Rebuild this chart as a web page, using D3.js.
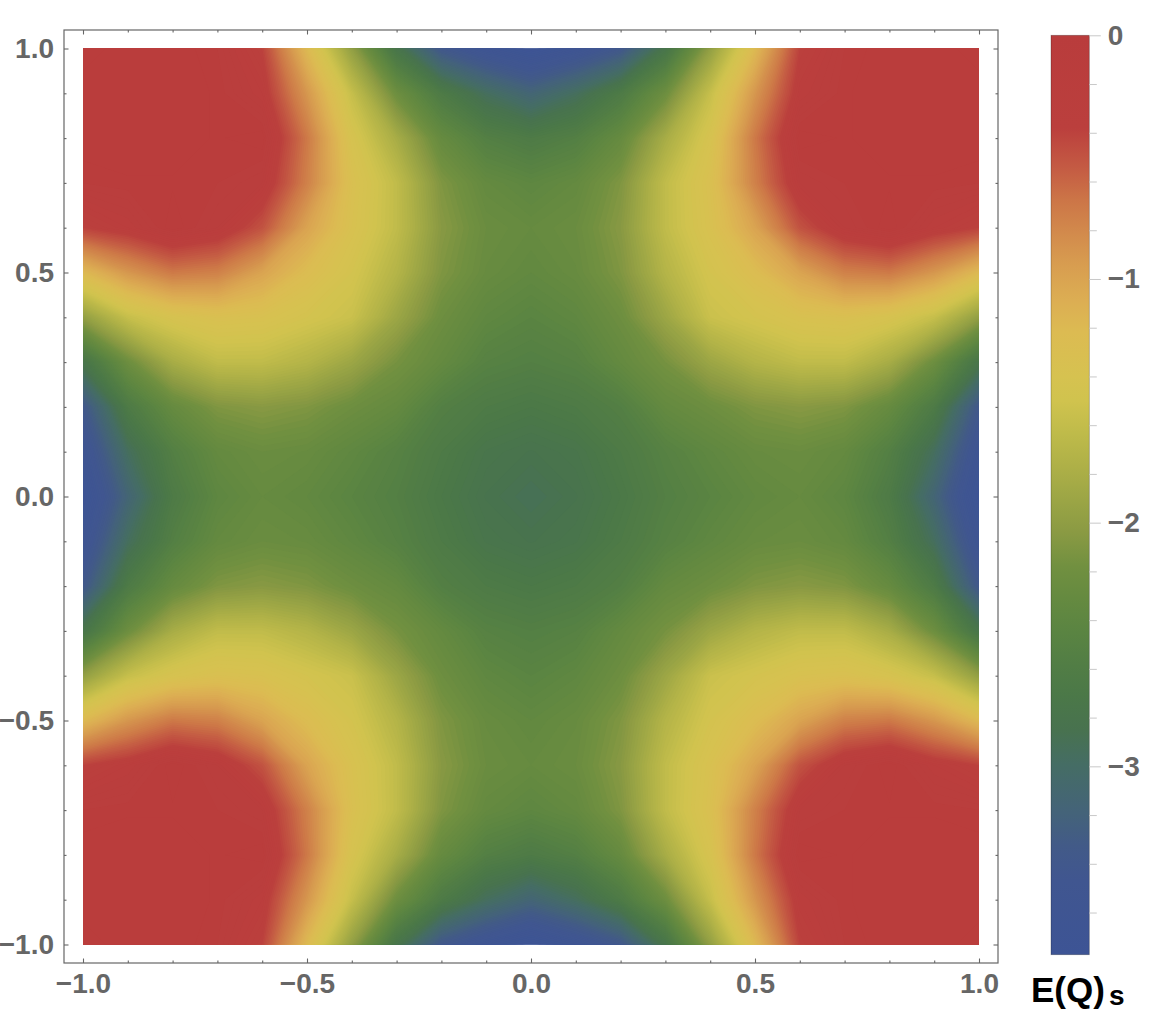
<!DOCTYPE html>
<html>
<head>
<meta charset="utf-8">
<script src="https://cdn.jsdelivr.net/npm/d3@7"></script>
<style>
  body { margin: 0; background: #fff; }
  svg text { font-family: "Liberation Sans", Arial, sans-serif; font-weight: bold; }
</style>
</head>
<body>
<div id="chart"></div>
<script>
// grid coordinates (columns = x, rows = y from top to bottom)
var xValues = [-1.0, -0.9, -0.8, -0.7, -0.6, -0.5, -0.4, -0.3, -0.2, -0.1, 0.0, 0.1, 0.2, 0.3, 0.4, 0.5, 0.6, 0.7, 0.8, 0.9, 1.0];
var yValues = [1.0, 0.9, 0.8, 0.7, 0.6, 0.5, 0.4, 0.3, 0.2, 0.1, 0.0, -0.1, -0.2, -0.3, -0.4, -0.5, -0.6, -0.7, -0.8, -0.9, -1.0];

// E(Q)s, one row per y value
var energy = [
  [-0.2, -0.15, -0.15, -0.2, -0.4, -1.2, -1.98, -2.78, -3.38, -3.6, -3.75, -3.6, -3.38, -2.78, -1.98, -1.2, -0.4, -0.2, -0.15, -0.15, -0.2],
  [-0.15, -0.15, -0.15, -0.18, -0.3, -0.9, -1.58, -2.22, -2.65, -2.95, -3.15, -2.95, -2.65, -2.22, -1.58, -0.9, -0.3, -0.18, -0.15, -0.15, -0.15],
  [-0.15, -0.15, -0.15, -0.18, -0.15, -0.7, -1.4, -1.82, -2.3, -2.55, -2.65, -2.55, -2.3, -1.82, -1.4, -0.7, -0.15, -0.18, -0.15, -0.15, -0.15],
  [-0.2, -0.18, -0.18, -0.2, -0.25, -0.75, -1.32, -1.62, -2.1, -2.32, -2.4, -2.32, -2.1, -1.62, -1.32, -0.75, -0.25, -0.2, -0.18, -0.18, -0.2],
  [-0.4, -0.3, -0.15, -0.25, -0.5, -1.0, -1.35, -1.62, -2.05, -2.25, -2.3, -2.25, -2.05, -1.62, -1.35, -1.0, -0.5, -0.25, -0.15, -0.3, -0.4],
  [-1.2, -0.9, -0.7, -0.75, -1.0, -1.25, -1.45, -1.72, -2.1, -2.28, -2.35, -2.28, -2.1, -1.72, -1.45, -1.25, -1.0, -0.75, -0.7, -0.9, -1.2],
  [-1.98, -1.58, -1.4, -1.32, -1.35, -1.45, -1.55, -1.9, -2.22, -2.38, -2.45, -2.38, -2.22, -1.9, -1.55, -1.45, -1.35, -1.32, -1.4, -1.58, -1.98],
  [-2.78, -2.22, -1.82, -1.62, -1.62, -1.72, -1.9, -2.15, -2.32, -2.5, -2.55, -2.5, -2.32, -2.15, -1.9, -1.72, -1.62, -1.62, -1.82, -2.22, -2.78],
  [-3.38, -2.65, -2.3, -2.1, -2.05, -2.1, -2.22, -2.32, -2.55, -2.65, -2.7, -2.65, -2.55, -2.32, -2.22, -2.1, -2.05, -2.1, -2.3, -2.65, -3.38],
  [-3.6, -2.95, -2.55, -2.32, -2.25, -2.28, -2.38, -2.5, -2.65, -2.78, -2.83, -2.78, -2.65, -2.5, -2.38, -2.28, -2.25, -2.32, -2.55, -2.95, -3.6],
  [-3.75, -3.15, -2.65, -2.4, -2.3, -2.35, -2.45, -2.55, -2.7, -2.83, -2.9, -2.83, -2.7, -2.55, -2.45, -2.35, -2.3, -2.4, -2.65, -3.15, -3.75],
  [-3.6, -2.95, -2.55, -2.32, -2.25, -2.28, -2.38, -2.5, -2.65, -2.78, -2.83, -2.78, -2.65, -2.5, -2.38, -2.28, -2.25, -2.32, -2.55, -2.95, -3.6],
  [-3.38, -2.65, -2.3, -2.1, -2.05, -2.1, -2.22, -2.32, -2.55, -2.65, -2.7, -2.65, -2.55, -2.32, -2.22, -2.1, -2.05, -2.1, -2.3, -2.65, -3.38],
  [-2.78, -2.22, -1.82, -1.62, -1.62, -1.72, -1.9, -2.15, -2.32, -2.5, -2.55, -2.5, -2.32, -2.15, -1.9, -1.72, -1.62, -1.62, -1.82, -2.22, -2.78],
  [-1.98, -1.58, -1.4, -1.32, -1.35, -1.45, -1.55, -1.9, -2.22, -2.38, -2.45, -2.38, -2.22, -1.9, -1.55, -1.45, -1.35, -1.32, -1.4, -1.58, -1.98],
  [-1.2, -0.9, -0.7, -0.75, -1.0, -1.25, -1.45, -1.72, -2.1, -2.28, -2.35, -2.28, -2.1, -1.72, -1.45, -1.25, -1.0, -0.75, -0.7, -0.9, -1.2],
  [-0.4, -0.3, -0.15, -0.25, -0.5, -1.0, -1.35, -1.62, -2.05, -2.25, -2.3, -2.25, -2.05, -1.62, -1.35, -1.0, -0.5, -0.25, -0.15, -0.3, -0.4],
  [-0.2, -0.18, -0.18, -0.2, -0.25, -0.75, -1.32, -1.62, -2.1, -2.32, -2.4, -2.32, -2.1, -1.62, -1.32, -0.75, -0.25, -0.2, -0.18, -0.18, -0.2],
  [-0.15, -0.15, -0.15, -0.18, -0.15, -0.7, -1.4, -1.82, -2.3, -2.55, -2.65, -2.55, -2.3, -1.82, -1.4, -0.7, -0.15, -0.18, -0.15, -0.15, -0.15],
  [-0.15, -0.15, -0.15, -0.18, -0.3, -0.9, -1.58, -2.22, -2.65, -2.95, -3.15, -2.95, -2.65, -2.22, -1.58, -0.9, -0.3, -0.18, -0.15, -0.15, -0.15],
  [-0.2, -0.15, -0.15, -0.2, -0.4, -1.2, -1.98, -2.78, -3.38, -3.6, -3.75, -3.6, -3.38, -2.78, -1.98, -1.2, -0.4, -0.2, -0.15, -0.15, -0.2]
];

// colour map (value -> colour)
var stopValues = [0, -0.38, -0.54, -0.675, -0.81, -0.95, -1.09, -1.22, -1.4, -1.5, -1.63, -1.77, -1.91, -2.04, -2.18, -2.31, -2.45, -2.59, -2.71, -2.85, -2.99, -3.19, -3.33, -3.47, -3.773];
var stopColors = ["#b93c3c", "#bb3f3d", "#c45a43", "#cc7547", "#d28a4c", "#d89e50", "#dcae53", "#dcbb52", "#d6c250", "#d0c34e", "#bfbb4a", "#aeb047", "#9ba545", "#8a9a43", "#719040", "#658a40", "#5a8442", "#517d45", "#4b7848", "#48724f", "#456d64", "#446379", "#425a88", "#405690", "#3d5495"];

var majorTicks = [-1, -0.5, 0, 0.5, 1];
var minorTicks = [-0.9, -0.8, -0.7, -0.6, -0.4, -0.3, -0.2, -0.1, 0.1, 0.2, 0.3, 0.4, 0.6, 0.7, 0.8, 0.9];
var barMajor = [0, -1, -2, -3];
var barMinor = [-0.2, -0.4, -0.6, -0.8, -1.2, -1.4, -1.6, -1.8, -2.2, -2.4, -2.6, -2.8, -3.2, -3.4, -3.6];
var barRange = [-3.773, 0];

var w = 1156,
  h = 1030;

var svg = d3
  .select("#chart")
  .append("svg")
  .attr("width", w)
  .attr("height", h);

var x = d3.scaleLinear().domain([-1, 1]).range([83, 979]);
var y = d3.scaleLinear().domain([-1, 1]).range([944.5, 48.5]);
var color = d3.scaleLinear().domain(stopValues).range(stopColors).clamp(true);

var frameX = [64, 998],
  frameY = [30, 963];

// density plot via filled contours
/**++++++++++++++++++++++++++++++++++++++++++++++++++++++++++++*/
var flat = [];
energy.forEach(function(row) {
  row.forEach(function(v) {
    flat.push(v);
  });
});

var step = 0.025;
var thresholds = d3.range(-3.8, 0, step);
var contours = d3
  .contours()
  .size([xValues.length, yValues.length])
  .thresholds(thresholds)(flat);

var gx = xValues[1] - xValues[0],
  gy = yValues[1] - yValues[0];
var gridToPx = d3.geoTransform({
  point: function(cx, cy) {
    this.stream.point(
      x(xValues[0] + (cx - 0.5) * gx),
      y(yValues[0] + (cy - 0.5) * gy)
    );
  }
});

svg
  .append("clipPath")
  .attr("id", "plotClip")
  .append("rect")
  .attr("x", x(-1))
  .attr("y", y(1))
  .attr("width", x(1) - x(-1))
  .attr("height", y(-1) - y(1));

svg
  .append("g")
  .attr("clip-path", "url(#plotClip)")
  .selectAll("path")
  .data(contours)
  .enter()
  .append("path")
  .attr("d", d3.geoPath(gridToPx))
  .attr("fill", function(d) {
    return color(d.value + step / 2);
  });
/**++++++++++++++++++++++++++++++++++++++++++++++++++++++++++++*/

// frame and ticks
svg
  .append("rect")
  .attr("x", frameX[0])
  .attr("y", frameY[0])
  .attr("width", frameX[1] - frameX[0])
  .attr("height", frameY[1] - frameY[0])
  .attr("fill", "none")
  .attr("stroke", "#666")
  .attr("stroke-width", 1.2);

function addAxis(axis, tx, ty, labels) {
  var g = svg
    .append("g")
    .attr("transform", "translate(" + tx + "," + ty + ")")
    .call(axis);
  g.select(".domain").remove();
  g.selectAll("line").attr("stroke", "#666").attr("stroke-width", 1.1);
  g.selectAll("text")
    .attr("fill", "#666")
    .style("font-size", "28px")
    .style("font-weight", "bold");
  if (!labels) g.selectAll("text").remove();
  return g;
}

var fmt = d3.format(".1f");
addAxis(d3.axisBottom(x).tickValues(majorTicks).tickSize(-4.5).tickPadding(10.3).tickFormat(fmt), 0, frameY[1], true);
addAxis(d3.axisBottom(x).tickValues(minorTicks).tickSize(-2.5), 0, frameY[1], false);
addAxis(d3.axisTop(x).tickValues(majorTicks).tickSize(-4.5), 0, frameY[0], false);
addAxis(d3.axisTop(x).tickValues(minorTicks).tickSize(-2.5), 0, frameY[0], false);
addAxis(d3.axisLeft(y).tickValues(majorTicks).tickSize(-4.5).tickPadding(10).tickFormat(fmt), frameX[0], 0, true);
addAxis(d3.axisLeft(y).tickValues(minorTicks).tickSize(-2.5), frameX[0], 0, false);
addAxis(d3.axisRight(y).tickValues(majorTicks).tickSize(-4.5), frameX[1], 0, false);
addAxis(d3.axisRight(y).tickValues(minorTicks).tickSize(-2.5), frameX[1], 0, false);

// legend bar
/**++++++++++++++++++++++++++++++++++++++++++++++++++++++++++++*/
var barX = 1051,
  barW = 38.3;
var bar = d3.scaleLinear().domain(barRange).range([954.7, 35.3]);

var grad = svg
  .append("defs")
  .append("linearGradient")
  .attr("id", "barGrad")
  .attr("x1", 0)
  .attr("y1", 0)
  .attr("x2", 0)
  .attr("y2", 1);
grad
  .selectAll("stop")
  .data(stopValues)
  .enter()
  .append("stop")
  .attr("offset", function(d) {
    return (barRange[1] - d) / (barRange[1] - barRange[0]);
  })
  .attr("stop-color", function(d) {
    return color(d);
  });

svg
  .append("rect")
  .attr("x", barX)
  .attr("y", bar(barRange[1]))
  .attr("width", barW)
  .attr("height", bar(barRange[0]) - bar(barRange[1]))
  .attr("fill", "url(#barGrad)")
  .attr("stroke", "rgba(0,0,0,0.3)")
  .attr("stroke-width", 0.8);

function barAxis(axis, labels) {
  var g = svg
    .append("g")
    .attr("transform", "translate(" + (barX + barW) + ",0)")
    .call(axis);
  g.select(".domain").remove();
  g.selectAll("line").attr("stroke", "#c8c8c8").attr("stroke-width", 1);
  g.selectAll("text")
    .attr("fill", "#666")
    .style("font-size", "28px")
    .style("font-weight", "bold");
  if (!labels) g.selectAll("text").remove();
}
barAxis(d3.axisRight(bar).tickValues(barMajor).tickSize(11.5).tickPadding(7).tickFormat(d3.format("d")), true);
barAxis(d3.axisRight(bar).tickValues(barMinor).tickSize(7.5), false);

var title = svg
  .append("text")
  .attr("x", 1031)
  .attr("y", 1001.5)
  .attr("fill", "#000")
  .style("font-size", "35px")
  .text("E(Q)");
title
  .append("tspan")
  .attr("dx", 4)
  .attr("dy", 3)
  .style("font-size", "28px")
  .text("s");
/**++++++++++++++++++++++++++++++++++++++++++++++++++++++++++++*/
</script>
</body>
</html>
